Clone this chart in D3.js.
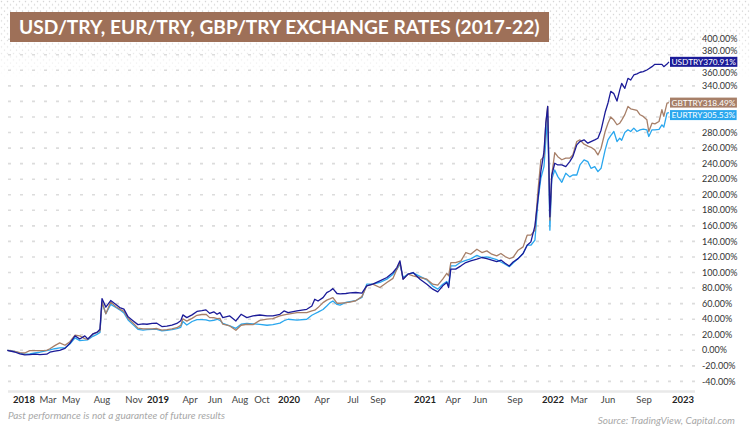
<!DOCTYPE html>
<html><head><meta charset="utf-8">
<script src="https://cdn.jsdelivr.net/npm/d3@7"></script>
<style>
body{margin:0;background:#fff;}
svg{display:block;font-family:Lato,"Open Sans",sans-serif;}
</style>
</head><body>
<svg id="chart" width="750" height="429"></svg>
<script>
// ---------- DATA ----------
const dates = [
"2017-11-21","2017-12-09","2017-12-22","2018-01-03","2018-01-15","2018-01-28","2018-02-09","2018-02-26","2018-03-06","2018-03-19",
"2018-04-01","2018-04-15","2018-04-28","2018-05-13","2018-05-27","2018-06-11","2018-06-20","2018-07-05","2018-07-17","2018-07-26",
"2018-08-01","2018-08-12","2018-08-26","2018-09-10","2018-09-21","2018-10-03","2018-10-15","2018-10-29","2018-11-11","2018-11-24",
"2018-12-04","2018-12-17","2018-12-29","2019-01-12","2019-01-26","2019-02-09","2019-02-23","2019-03-06","2019-03-12","2019-03-23",
"2019-04-06","2019-04-18","2019-04-30","2019-05-10","2019-05-19","2019-05-29","2019-06-06","2019-06-13","2019-06-20","2019-07-07",
"2019-07-22","2019-08-04","2019-08-20","2019-09-06","2019-09-25","2019-10-18","2019-11-07","2019-12-01","2019-12-15","2019-12-29",
"2020-01-23","2020-02-19","2020-03-04","2020-03-12","2020-03-21","2020-04-04","2020-04-15","2020-04-24","2020-05-03","2020-05-15",
"2020-05-24","2020-06-10","2020-06-22","2020-07-08","2020-07-23","2020-08-04","2020-08-19","2020-09-06","2020-09-24","2020-10-10",
"2020-10-20","2020-10-28","2020-11-05","2020-11-18","2020-12-01","2020-12-19","2021-01-07","2021-01-26","2021-02-11","2021-02-27",
"2021-03-12","2021-03-18","2021-03-25","2021-04-07","2021-04-19","2021-04-30","2021-05-11","2021-05-25","2021-06-06","2021-06-19",
"2021-07-02","2021-07-15","2021-07-26","2021-08-06","2021-08-17","2021-08-27","2021-09-11","2021-09-27","2021-10-10","2021-10-22",
"2021-11-04","2021-11-14","2021-11-23","2021-12-03","2021-12-09","2021-12-15","2021-12-22","2021-12-28","2022-01-05","2022-01-12",
"2022-01-21","2022-01-30","2022-02-08","2022-02-15","2022-02-24","2022-03-04","2022-03-17","2022-03-29","2022-04-08","2022-04-20",
"2022-04-30","2022-05-10","2022-05-23","2022-06-01","2022-06-08","2022-06-16","2022-06-24","2022-07-01","2022-07-06","2022-07-14",
"2022-07-22","2022-07-29","2022-08-06","2022-08-14","2022-08-22","2022-08-30","2022-09-10","2022-09-16","2022-09-26","2022-10-05",
"2022-10-18","2022-10-27","2022-11-02","2022-11-12","2022-11-18"
];
const usdtry = [
0,-2.2,-4.5,-6,-5.5,-5,-5.5,-5,-2.5,-1,
0,2.5,9,18.5,14.5,18.5,14.5,21,23,27,
66.5,55.5,64,59,55,53,43,38,33,34,
33.5,34.5,34.8,30.5,31,32.5,34.5,38,45.5,42,
45.5,50,51,52,47.5,49.5,46.3,48.4,42,44.2,
37.7,46.3,42,44.2,45.4,44.2,44.2,46.3,50.6,48.4,
50.6,52.7,57,65.6,63.4,67.7,74.1,76.3,79.3,73,
72.5,73,73.8,74.3,73.5,82.9,85,89.3,93.6,100,
106.4,115,91.4,97.9,100,91.4,85,78.6,75.2,82.9,
87.2,80.7,104.3,104.3,108.6,112.8,115,117.1,119.3,118,
116,114.1,116,112,108.4,113.6,117.9,124.4,135.1,139.4,
160,195,230,255,292,313.6,171.7,225,240.5,238.3,
238.3,236.2,242.6,249,264.1,268.4,270.6,266.3,268.4,270.6,
272.7,283,306,318,333,330,320.5,334.6,343.2,336.8,
349.7,347.5,354,355.5,357.5,358.3,360.4,362,364.7,367.7,
367.7,367.7,364.7,368,370.91
];
const gbptry = [
0,-1.5,-3,-3.5,-0.5,-0.5,-0.5,0,2,6,
9.5,6.5,11,19.5,18.5,15,14,21,23,25,
62,47,62,56,53,50,41,35,28.5,27.5,
27.5,27.5,28,26,26.5,27.5,29,32,40.5,37.5,
41,45,46,46.3,42,42,40.7,41,33.5,31.3,
25.8,32.2,33.5,33,38.5,40,40.7,44.2,45.5,46.5,
48.4,48.4,50.6,51.5,54.9,61.3,64.5,66,67.7,60.5,
60.5,61.2,62,63.7,69,82.9,85,80.7,87.2,92.5,
104.3,112.8,91.4,97.9,95.7,93.6,91.4,85,83.7,91.4,
99,95.7,112.8,112.8,115,125.7,123.5,130,125.7,127.8,
123.5,121.4,124.5,120.5,118,119.5,128.7,133,148,148,
154.5,206,244.8,249,292,313.6,167.4,225,254.2,249,
245,247,247,251.2,268.4,270.6,265,262.5,261,257.7,
251.2,259.8,281.3,292,300,296,290,292,296,303,
313.5,310.5,309.5,308.4,302.8,300.7,296.4,281.3,292,291.2,
294.2,309.3,300.7,317.9,318.49
];
const eurtry = [
0,-1.5,-3.5,-5,-4.5,-3.5,-2.5,-0.5,0.5,2,
3,3,8,16,12.5,13,13.5,18,20.5,23,
62,47,59,55,52,48,39,33,27,26,
26.5,27,27,25,25.5,26.5,28,29.5,37,32.5,
37,39.5,39.5,39,37.7,38.5,39.9,38.5,34.7,31.3,
28.3,33.5,34.7,34,33.2,32.2,33,35,38,39.9,
38.8,39.9,45,47,49,52.5,57,61,63.4,59,
58,61.5,62.5,64,68,85,85,87.2,91.4,97.9,
104,110.7,93.6,97.9,99.5,95,90.5,82.5,78.6,85,
88.5,82.9,108.6,108.6,113.5,115.5,117.5,122,119.3,120,
118.5,116.5,113.5,110.7,107.5,112.3,117.9,124.4,135.1,135.1,
141.6,193.2,221.1,236.2,270,300.7,154.5,220,231.9,223.3,
216,227.6,223,225.4,225.4,238.3,244.8,242.6,234,236.2,
229.7,234,257.7,270.6,276,281.3,268.4,272.7,270,280,
283.5,281.3,285.6,281.3,283.5,284.3,283.5,274.9,283.5,283.5,
284,289.9,286.9,305,305.53
];
const seriesNames = ["USDTRY", "GBTTRY", "EURTRY"];
const yTickValues = [-40,-20,0,20,40,60,80,100,120,140,160,180,200,220,240,260,280,300,320,340,360,380,400];
const xTickDates = ["2018-01-01","2018-03-01","2018-05-01","2018-08-01","2018-11-01","2019-01-01","2019-04-01","2019-06-01","2019-08-01","2019-10-01",
  "2020-01-01","2020-04-01","2020-07-01","2020-09-01","2021-01-01","2021-04-01","2021-06-01","2021-09-01","2022-01-01","2022-03-01","2022-06-01","2022-09-01","2023-01-01"];
const xTickLabels = ["2018","Mar","May","Aug","Nov","2019","Apr","Jun","Aug","Oct","2020","Apr","Jul","Sep","2021","Apr","Jun","Sep","2022","Mar","Jun","Sep","2023"];
const titleText = "USD/TRY, EUR/TRY, GBP/TRY EXCHANGE RATES (2017-22)";
const noteText = "Past performance is not a guarantee of future results";
const sourceText = "Source: TradingView, Capital.com";

// ---------- LAYOUT ----------
// time axis of the source is bar-indexed, so the scale is piecewise (one anchor per tick label)
const xAnchorPx = [24,48,71,102,134,158,190,215,240,262,289,322,353,378,425,453,480,515,553,579,608,644,683];
const colors = {USDTRY:"#1b1b98", GBTTRY:"#a77f68", EURTRY:"#2aa7ee"};
const titleColor = "#9e7058";

const parse = d3.timeParse("%Y-%m-%d");
const svg = d3.select("#chart");

// dotted background pattern at top
const defs = svg.append("defs");
const pat = defs.append("pattern").attr("id","dots").attr("width",6).attr("height",6.5)
  .attr("patternUnits","userSpaceOnUse");
pat.append("circle").attr("cx",1.5).attr("cy",1.5).attr("r",0.75).attr("fill","#d0d0d0");
pat.append("circle").attr("cx",4.5).attr("cy",4.75).attr("r",0.75).attr("fill","#d0d0d0");
const grad = defs.append("linearGradient").attr("id","fade").attr("x1",0).attr("y1",0).attr("x2",0).attr("y2",1);
grad.append("stop").attr("offset","0%").attr("stop-color","#fff").attr("stop-opacity",1);
grad.append("stop").attr("offset","45%").attr("stop-color","#fff").attr("stop-opacity",0.8);
grad.append("stop").attr("offset","100%").attr("stop-color","#fff").attr("stop-opacity",0);
const mask = defs.append("mask").attr("id","fademask");
mask.append("rect").attr("x",0).attr("y",0).attr("width",750).attr("height",80).attr("fill","url(#fade)");
svg.append("rect").attr("x",0).attr("y",0).attr("width",750).attr("height",80)
  .attr("fill","url(#dots)").attr("mask","url(#fademask)");

const x = d3.scaleTime().domain(xTickDates.map(parse)).range(xAnchorPx);
const y = d3.scaleLinear().domain([-40, 400]).range([381.4, 39.2]);

// grid
svg.append("g").selectAll("line").data(yTickValues).join("line")
  .attr("x1",8).attr("x2",697)
  .attr("y1",d=>y(d)).attr("y2",d=>y(d))
  .attr("stroke","#dcdcdc").attr("stroke-width",1.6).attr("stroke-dasharray","3,9");

// series
const seriesData = {USDTRY: usdtry, GBTTRY: gbptry, EURTRY: eurtry};

// end-label positions (stacked so they do not collide)
let ends = seriesNames.map(n=>{
  const v = seriesData[n][seriesData[n].length-1];
  return {name:n, value:v, y:y(v)};
}).sort((a,b)=>a.y-b.y);
for (let i=1;i<ends.length;i++){
  if (ends[i].y - ends[i-1].y < 12.5) ends[i].y = ends[i-1].y + 12.5;
}

// right axis labels: hidden when under an end label, nudged when close
const axisLabels = yTickValues.map(v=>{
  let ly = y(v), show = true;
  ends.forEach(e=>{
    const d = ly - e.y;
    if (Math.abs(d) < 5) show = false;
    else if (Math.abs(d) < 11) ly = e.y + Math.sign(d)*11;
  });
  return {v, ly, show};
}).filter(d=>d.show);
svg.append("g").selectAll("text").data(axisLabels).join("text")
  .attr("x",702).attr("y",d=>d.ly).attr("dy","0.35em")
  .attr("font-size",9).attr("fill","#333")
  .text(d=>d.v.toFixed(2)+"%");

// bottom axis line
svg.append("line").attr("x1",8).attr("x2",695).attr("y1",391.5).attr("y2",391.5)
  .attr("stroke","#e9e9e9").attr("stroke-width",2.5);

// x labels
svg.append("g").selectAll("text").data(xTickDates).join("text")
  .attr("x",d=>x(parse(d))).attr("y",402.5).attr("text-anchor","middle")
  .attr("font-size",9.5)
  .attr("font-weight",(d,i)=>/^\d{4}$/.test(xTickLabels[i])?"bold":"normal")
  .attr("fill",(d,i)=>/^\d{4}$/.test(xTickLabels[i])?"#222":"#444")
  .text((d,i)=>xTickLabels[i]);

// lines
const line = d3.line().x(d=>x(d[0])).y(d=>y(d[1]));
["EURTRY","GBTTRY","USDTRY"].forEach(name=>{
  const pts = dates.map((d,i)=>[parse(d), seriesData[name][i]]);
  svg.append("path").datum(pts).attr("d",line)
    .attr("fill","none").attr("stroke",colors[name]).attr("stroke-width",1.3)
    .attr("stroke-linejoin","round");
});

// end labels
const lg = svg.append("g");
ends.forEach(e=>{
  const g = lg.append("g");
  const t = g.append("text").attr("x",671.5).attr("y",e.y).attr("dy","0.36em")
    .attr("font-size",8.3).attr("fill","#fff").text(e.name + e.value.toFixed(2) + "%");
  const w = t.node().getComputedTextLength();
  g.insert("rect","text").attr("x",670).attr("y",e.y-5).attr("width",w+3).attr("height",10)
    .attr("fill",colors[e.name]);
});

// title
svg.append("rect").attr("x",10).attr("y",12).attr("width",539).attr("height",30).attr("fill",titleColor);
const tt = svg.append("text").attr("x",19).attr("y",33.6).attr("font-size",18)
  .attr("font-weight","bold").attr("fill","#fff").text(titleText);
const tw = tt.node().getComputedTextLength();
tt.attr("font-size", 18*521/tw);

// footer
svg.append("text").attr("x",8).attr("y",419).attr("font-size",10).attr("font-style","italic")
  .attr("fill","#a8a8a8").text(noteText);
svg.append("text").attr("x",735).attr("y",423.5).attr("text-anchor","end").attr("font-size",10)
  .attr("font-style","italic").attr("fill","#a8a8a8").text(sourceText);
</script>
</body></html>
